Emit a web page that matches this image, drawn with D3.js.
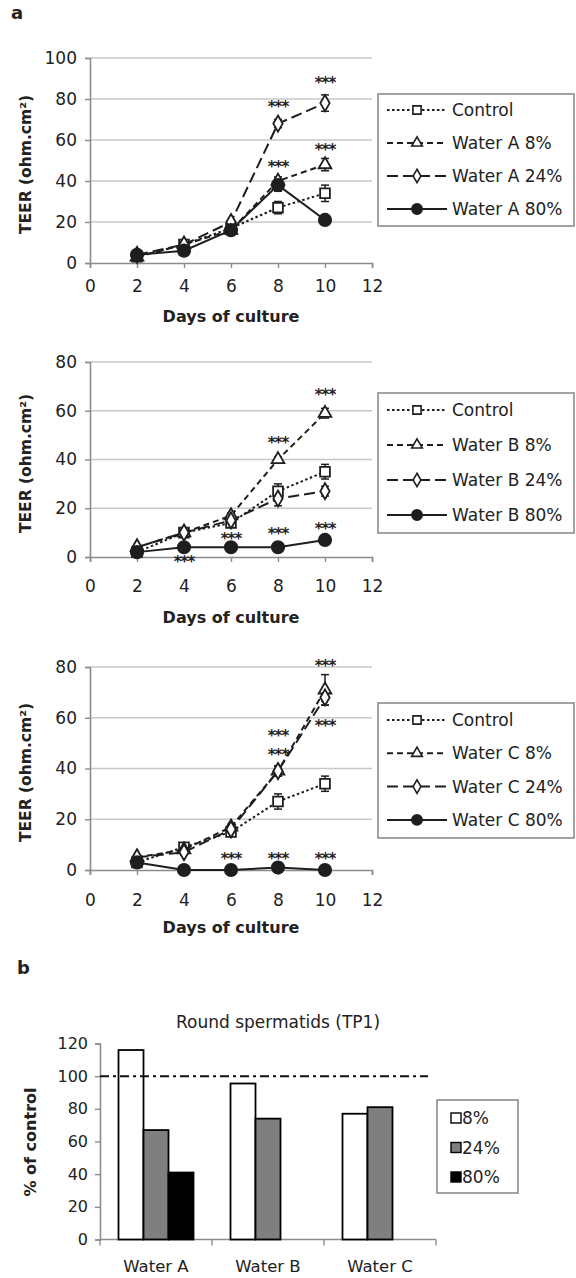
<!DOCTYPE html>
<html><head><meta charset="utf-8">
<script src="https://cdn.jsdelivr.net/npm/d3@7"></script>
<style>
body{margin:0;background:#fff}
svg{display:block}
text{font-family:"DejaVu Sans",sans-serif;fill:#222}
</style>
</head><body>
<svg id="c" width="576" height="1278"></svg>
<script>
// ---------- DATA ----------
const days = [2, 4, 6, 8, 10];
const xTicks = [0, 2, 4, 6, 8, 10, 12];
const yTicksA = [0, 20, 40, 60, 80, 100];
const yTicksBC = [0, 20, 40, 60, 80];

// Panel A (Water A)
const ctrlA = [3, 9, 17, 27, 34];
const a8 = [3, 9, 16, 40, 48];
const a24 = [4, 9, 20, 68, 78];
const a80 = [4, 6, 16, 38, 21];
const ctrlAErr = [0.5, 1, 1, 3, 4];
const a8Err = [0.5, 1, 1, 2, 3];
const a24Err = [0.5, 1, 1, 2, 4];
const a80Err = [0.5, 0.5, 1, 3, 1];
const starsA = [[8, 78], [8, 49], [10, 90], [10, 57]];

// Panel B (Water B)
const ctrlB = [2, 10, 14, 27, 35];
const b8 = [4, 10, 17, 40, 59];
const b24 = [4, 10, 15, 24, 27];
const b80 = [2, 4, 4, 4, 7];
const ctrlBErr = [0.5, 1, 1, 3, 3];
const b8Err = [0.5, 1, 1, 1, 2];
const b24Err = [0.5, 1, 1, 3, 2];
const b80Err = [0.5, 0.5, 0.5, 0.5, 1];
const starsB = [[4, -0.5], [6, 9], [8, 48.5], [8, 11], [10, 68], [10, 13]];

// Panel C (Water C)
const ctrlC = [3, 9, 15, 27, 34];
const c8 = [5, 8, 17, 39, 71];
const c24 = [5, 7, 16, 39, 68];
const c80 = [3, 0, 0, 1, 0];
const ctrlCErr = [0.5, 1, 1, 3, 3];
const c8Err = [0.5, 1, 1, 2, 6];
const c24Err = [0.5, 1, 1, 2, 3];
const c80Err = [0.5, 0.5, 0.5, 0.5, 0.5];
const starsC = [[8, 54.5], [8, 47], [10, 82], [10, 58.5], [6, 6], [8, 6], [10, 6]];

const legendA = ["Control", "Water A 8%", "Water A 24%", "Water A 80%"];
const legendB = ["Control", "Water B 8%", "Water B 24%", "Water B 80%"];
const legendC = ["Control", "Water C 8%", "Water C 24%", "Water C 80%"];

// Panel b (bars)
const barCats = ["Water A", "Water B", "Water C"];
const barSeries = ["8%", "24%", "80%"];
const bar8 = [116, 95.5, 77];
const bar24 = [67, 74, 81];
const bar80 = [41, null, null];
const barTicks = [0, 20, 40, 60, 80, 100, 120];
const refLine = 100;

// ---------- DRAW ----------
const svg = d3.select("#c");
const INK = "#1e1e1e";
const GRID = "#c8c8c8";
const AXIS = "#8c8c8c";

const styles = [
  {dash: "2.5,2.5", sym: d3.symbolSquare, size: 95, fill: "#fff"},
  {dash: "6,4", sym: d3.symbolTriangle, size: 70, fill: "#fff"},
  {dash: "11,5", sym: d3.symbolDiamond, size: 75, fill: "#fff"},
  {dash: null, sym: d3.symbolCircle, size: 120, fill: INK}
];

function linePanel(cfg) {
  const x = d3.scaleLinear().domain([0, 12]).range([90, 372]);
  const y = d3.scaleLinear().domain([0, cfg.ymax]).range([cfg.y0, cfg.y1]);
  const g = svg.append("g");

  // grid
  g.selectAll(".grid").data(cfg.yticks.filter(d => d > 0)).join("line")
    .attr("x1", x(0)).attr("x2", x(12)).attr("y1", d => y(d)).attr("y2", d => y(d))
    .attr("stroke", GRID).attr("stroke-width", 1.6);

  // axes
  const ya = g.append("g").attr("transform", `translate(${x(0)},0)`)
    .call(d3.axisLeft(y).tickValues(cfg.yticks).tickSize(5).tickPadding(8));
  const xa = g.append("g").attr("transform", `translate(0,${y(0)})`)
    .call(d3.axisBottom(x).tickValues(xTicks).tickSize(5).tickPadding(cfg.xpad));
  [ya, xa].forEach(a => {
    a.select(".domain").attr("stroke", AXIS).attr("stroke-width", 1.6);
    a.selectAll(".tick line").attr("stroke", AXIS).attr("stroke-width", 1.4);
    a.selectAll("text").style("font-family", '"DejaVu Sans",sans-serif')
      .style("font-size", "17px").attr("fill", "#333");
  });

  // titles
  g.append("text").attr("x", 231).attr("y", y(0) + cfg.titleOff)
    .attr("text-anchor", "middle").style("font-size", "16px").style("font-weight", "bold")
    .text("Days of culture");
  g.append("text").attr("transform", `translate(31,${(cfg.y0 + cfg.y1) / 2 + 4}) rotate(-90)`)
    .attr("text-anchor", "middle").style("font-size", "15.5px").style("font-weight", "bold")
    .text("TEER (ohm.cm²)");

  // series lines
  cfg.series.forEach((s, i) => {
    const st = styles[i];
    const pts = days.map((d, k) => [d, s.v[k], s.e[k]]);
    g.append("path").datum(pts)
      .attr("d", d3.line().x(d => x(d[0])).y(d => y(d[1])))
      .attr("fill", "none").attr("stroke", INK).attr("stroke-width", 2)
      .attr("stroke-dasharray", st.dash);
    // error bars
    const eb = g.append("g").selectAll("g").data(pts).join("g");
    eb.append("line").attr("x1", d => x(d[0])).attr("x2", d => x(d[0]))
      .attr("y1", d => y(d[1] - d[2])).attr("y2", d => y(d[1] + d[2]))
      .attr("stroke", INK).attr("stroke-width", 1.5);
    [-1, 1].forEach(sg => {
      eb.append("line").attr("x1", d => x(d[0]) - 4).attr("x2", d => x(d[0]) + 4)
        .attr("y1", d => y(d[1] + sg * d[2])).attr("y2", d => y(d[1] + sg * d[2]))
        .attr("stroke", INK).attr("stroke-width", 1.5);
    });
  });
  cfg.series.forEach((s, i) => {
    const st = styles[i];
    g.append("g").selectAll("path").data(days.map((d, k) => [d, s.v[k]])).join("path")
      .attr("transform", d => `translate(${x(d[0])},${y(d[1])})`)
      .attr("d", d3.symbol().type(st.sym).size(st.size))
      .attr("fill", st.fill).attr("stroke", INK).attr("stroke-width", 1.8);
  });

  // significance stars
  g.selectAll(".star").data(cfg.stars).join("text")
    .attr("x", d => x(d[0])).attr("y", d => y(d[1]) + 9)
    .attr("text-anchor", "middle").style("font-size", "15px").style("font-weight", "bold")
    .style("letter-spacing", "-1px").text("***");

  // legend
  const L = cfg.legend;
  g.append("rect").attr("x", 378).attr("y", L.top).attr("width", 196).attr("height", L.h)
    .attr("fill", "#fff").attr("stroke", AXIS).attr("stroke-width", 1.6);
  cfg.labels.forEach((lab, i) => {
    const st = styles[i];
    const ly = L.top + L.first + i * L.step;
    g.append("line").attr("x1", 387).attr("x2", 447).attr("y1", ly).attr("y2", ly)
      .attr("stroke", INK).attr("stroke-width", 2).attr("stroke-dasharray", st.dash);
    g.append("path").attr("transform", `translate(417,${ly})`)
      .attr("d", d3.symbol().type(st.sym).size(st.size * 0.7))
      .attr("fill", st.fill).attr("stroke", INK).attr("stroke-width", 1.6);
    g.append("text").attr("x", 452).attr("y", ly + 6).style("font-size", "17px").text(lab);
  });
}

linePanel({ymax: 100, y0: 263, y1: 58, yticks: yTicksA, xpad: 12, titleOff: 59,
  series: [{v: ctrlA, e: ctrlAErr}, {v: a8, e: a8Err}, {v: a24, e: a24Err}, {v: a80, e: a80Err}],
  stars: starsA, labels: legendA, legend: {top: 94, h: 132, first: 16, step: 33}});
linePanel({ymax: 80, y0: 557, y1: 362, yticks: yTicksBC, xpad: 18, titleOff: 66,
  series: [{v: ctrlB, e: ctrlBErr}, {v: b8, e: b8Err}, {v: b24, e: b24Err}, {v: b80, e: b80Err}],
  stars: starsB, labels: legendB, legend: {top: 393, h: 140, first: 17, step: 35}});
linePanel({ymax: 80, y0: 870, y1: 667, yticks: yTicksBC, xpad: 19, titleOff: 63,
  series: [{v: ctrlC, e: ctrlCErr}, {v: c8, e: c8Err}, {v: c24, e: c24Err}, {v: c80, e: c80Err}],
  stars: starsC, labels: legendC, legend: {top: 703, h: 135, first: 17, step: 33.3}});

// panel letters
svg.append("text").attr("x", 11).attr("y", 19).style("font-size", "18px").style("font-weight", "bold").text("a");
svg.append("text").attr("x", 17).attr("y", 974).style("font-size", "18px").style("font-weight", "bold").text("b");

// ---------- Bar panel ----------
(function () {
  const x = d3.scaleBand().domain(barCats).range([100, 436]);
  const xi = d3.scaleBand().domain(barSeries).range([0, x.bandwidth()]).paddingOuter(0.74);
  const y = d3.scaleLinear().domain([0, 120]).range([1239.5, 1043.5]);
  const fills = {"8%": "#ffffff", "24%": "#7f7f7f", "80%": "#000000"};
  const g = svg.append("g");
  const vals = {"8%": bar8, "24%": bar24, "80%": bar80};

  const ya = g.append("g").attr("transform", "translate(100,0)")
    .call(d3.axisLeft(y).tickValues(barTicks).tickSize(5).tickPadding(7));
  ya.select(".domain").attr("stroke", AXIS).attr("stroke-width", 1.6);
  ya.selectAll(".tick line").attr("stroke", AXIS).attr("stroke-width", 1.4);
  ya.selectAll("text").style("font-family", '"DejaVu Sans",sans-serif').style("font-size", "16px").attr("fill", "#333");

  // x axis baseline and category dividers
  g.append("line").attr("x1", 100).attr("x2", 436).attr("y1", y(0)).attr("y2", y(0))
    .attr("stroke", AXIS).attr("stroke-width", 1.6);
  g.selectAll(".div").data([100, x("Water B"), x("Water C"), 436]).join("line")
    .attr("x1", d => d).attr("x2", d => d).attr("y1", y(0)).attr("y2", y(0) + 6)
    .attr("stroke", AXIS).attr("stroke-width", 1.4);
  g.selectAll(".cat").data(barCats).join("text")
    .attr("x", d => x(d) + x.bandwidth() / 2).attr("y", 1272)
    .attr("text-anchor", "middle").style("font-size", "16.5px").text(d => d);

  // bars
  barSeries.forEach(s => {
    g.append("g").selectAll("rect").data(barCats.map((c, k) => [c, vals[s][k]]).filter(d => d[1] != null))
      .join("rect")
      .attr("x", d => x(d[0]) + xi(s)).attr("width", xi.bandwidth())
      .attr("y", d => y(d[1])).attr("height", d => y(0) - y(d[1]))
      .attr("fill", fills[s]).attr("stroke", "#000").attr("stroke-width", 1.8);
  });

  // reference line
  g.append("line").attr("x1", 100).attr("x2", 428).attr("y1", y(refLine)).attr("y2", y(refLine))
    .attr("stroke", "#111").attr("stroke-width", 2).attr("stroke-dasharray", "9,4,3,4");

  // titles
  g.append("text").attr("x", 278).attr("y", 1028).attr("text-anchor", "middle")
    .style("font-size", "17px").text("Round spermatids (TP1)");
  g.append("text").attr("transform", "translate(36,1142) rotate(-90)").attr("text-anchor", "middle")
    .style("font-size", "16px").style("font-weight", "bold").text("% of control");

  // legend
  g.append("rect").attr("x", 437).attr("y", 1100).attr("width", 81).attr("height", 93)
    .attr("fill", "#fff").attr("stroke", AXIS).attr("stroke-width", 1.6);
  barSeries.forEach((s, i) => {
    const ly = 1118 + i * 29.5;
    g.append("rect").attr("x", 451).attr("y", ly - 5).attr("width", 10).attr("height", 10)
      .attr("fill", fills[s]).attr("stroke", "#000").attr("stroke-width", 1.4);
    g.append("text").attr("x", 462).attr("y", ly + 6).style("font-size", "17px").text(s);
  });
})();
</script>
</body></html>
